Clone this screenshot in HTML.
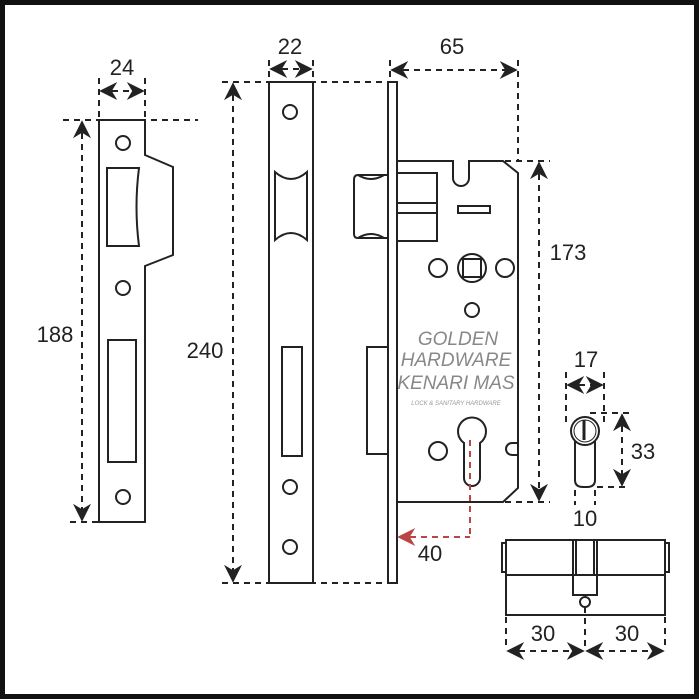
<!DOCTYPE html>
<html><head><style>
html,body{margin:0;padding:0;background:#fff;}
svg{display:block;}
text{font-family:"Liberation Sans",sans-serif;fill:#222;}
</style></head><body>
<svg width="699" height="699" viewBox="0 0 699 699" xmlns="http://www.w3.org/2000/svg">
<defs>
<marker id="a" viewBox="0 0 10 10" refX="9" refY="5" markerWidth="9" markerHeight="9" orient="auto-start-reverse"><path d="M0,0 L10,5 L0,10 L3,5 z" fill="#222"/></marker>
<marker id="r" viewBox="0 0 10 10" refX="9" refY="5" markerWidth="9" markerHeight="9" orient="auto-start-reverse"><path d="M0,0 L10,5 L0,10 L3,5 z" fill="#b44"/></marker>
</defs>
<rect x="0" y="0" width="699" height="699" fill="#fff"/>
<rect x="2.5" y="2.5" width="694" height="694" fill="none" stroke="#111" stroke-width="5"/>
<g fill="none" stroke="#222" stroke-width="2">
<path d="M99,120 H145 V155 L173,167 V255 L145,266 V522 H99 Z"/>
<circle cx="123" cy="143" r="7"/>
<path d="M107,168 H139 Q134,207 139,246 H107 Z"/>
<circle cx="123" cy="288" r="7"/>
<rect x="108" y="340" width="28" height="122"/>
<circle cx="123" cy="497" r="7"/>
<rect x="269" y="82" width="44" height="501"/>
<circle cx="290" cy="112" r="7"/>
<path d="M275,172 Q291,186 307,172 V240 Q291,226 275,240 Z"/>
<rect x="282" y="347" width="20" height="109"/>
<circle cx="290" cy="487" r="7"/>
<circle cx="290" cy="547" r="7"/>
<rect x="388" y="82" width="9" height="501"/>
<path d="M397,161 H453 V178 A8,8 0 0 0 469,178 V161 H503 L518,173 V488 L503,502 H397"/>
<path d="M388,175 H358 Q354,175 354,180 V234 Q354,238 358,238 H388"/>
<path d="M358,175 Q371,183 384,175 M358,238 Q371,230 384,238"/>
<rect x="397" y="173" width="40" height="68"/>
<line x1="397" y1="203" x2="437" y2="203"/><line x1="397" y1="213" x2="437" y2="213"/>
<rect x="458" y="206" width="32" height="7"/>
<circle cx="472" cy="268" r="14"/>
<rect x="463" y="259" width="18" height="18"/>
<circle cx="438" cy="268" r="9"/>
<circle cx="505" cy="268" r="9"/>
<circle cx="472" cy="310" r="7"/>
<rect x="367" y="347" width="21" height="107"/>
<path d="M464,443 A14,14 0 1 1 480,443 V478 A8,8 0 0 1 464,478 Z"/>
<circle cx="438" cy="451" r="9"/>
<path d="M518,443 H512 A6,6 0 0 0 512,455 H518"/>
<circle cx="585" cy="431" r="14"/>
<circle cx="585" cy="431" r="11" stroke-width="1"/>
<path d="M575,441 V480 Q575,487 583,487 H587 Q595,487 595,480 V441"/>
<line x1="584" y1="420" x2="584" y2="440" stroke-width="3"/>
<rect x="506" y="540" width="159" height="75"/>
<line x1="506" y1="575" x2="665" y2="575"/>
<path d="M506,543 H502 V572 H506 M665,543 H669 V572 H665"/>
<path d="M573,540 V595 H597 V540 M576,540 V575 M594,540 V575"/>
<circle cx="585" cy="602" r="5"/>
</g>
<g fill="none" stroke="#222" stroke-width="2" stroke-dasharray="6,5">
<line x1="99" y1="78" x2="99" y2="120"/><line x1="145" y1="78" x2="145" y2="120"/>
<line x1="101" y1="91" x2="143" y2="91" marker-start="url(#a)" marker-end="url(#a)"/>
<line x1="63" y1="120" x2="198" y2="120"/><line x1="70" y1="522" x2="99" y2="522"/>
<line x1="82" y1="122" x2="82" y2="520" marker-start="url(#a)" marker-end="url(#a)"/>
<line x1="269" y1="60" x2="269" y2="82"/><line x1="313" y1="60" x2="313" y2="82"/>
<line x1="271" y1="69" x2="311" y2="69" marker-start="url(#a)" marker-end="url(#a)"/>
<line x1="222" y1="82" x2="388" y2="82"/><line x1="222" y1="583" x2="388" y2="583"/>
<line x1="233" y1="84" x2="233" y2="581" marker-start="url(#a)" marker-end="url(#a)"/>
<line x1="390" y1="60" x2="390" y2="82"/><line x1="518" y1="60" x2="518" y2="161"/>
<line x1="392" y1="70" x2="516" y2="70" marker-start="url(#a)" marker-end="url(#a)"/>
<line x1="505" y1="161" x2="550" y2="161"/><line x1="505" y1="502" x2="550" y2="502"/>
<line x1="539" y1="163" x2="539" y2="500" marker-start="url(#a)" marker-end="url(#a)"/>
<line x1="566" y1="372" x2="566" y2="425"/><line x1="604" y1="372" x2="604" y2="425"/>
<line x1="568" y1="385" x2="602" y2="385" marker-start="url(#a)" marker-end="url(#a)"/>
<line x1="590" y1="413" x2="630" y2="413"/><line x1="597" y1="487" x2="630" y2="487"/>
<line x1="622" y1="415" x2="622" y2="485" marker-start="url(#a)" marker-end="url(#a)"/>
<line x1="575" y1="490" x2="575" y2="505"/><line x1="595" y1="490" x2="595" y2="505"/>
<line x1="506" y1="617" x2="506" y2="650"/><line x1="585" y1="607" x2="585" y2="650"/><line x1="665" y1="617" x2="665" y2="650"/>
<line x1="508" y1="651" x2="583" y2="651" marker-start="url(#a)" marker-end="url(#a)"/>
<line x1="587" y1="651" x2="663" y2="651" marker-start="url(#a)" marker-end="url(#a)"/>
</g>
<g fill="none" stroke="#b44" stroke-width="2" stroke-dasharray="6,5">
<line x1="470" y1="440" x2="470" y2="537"/>
<line x1="399" y1="537" x2="470" y2="537" marker-start="url(#r)"/>
</g>
<g font-size="22" text-anchor="middle">
<text x="122" y="75">24</text>
<text x="55" y="342">188</text>
<text x="290" y="54">22</text>
<text x="205" y="358">240</text>
<text x="452" y="54">65</text>
<text x="568" y="260">173</text>
<text x="430" y="561">40</text>
<text x="586" y="367">17</text>
<text x="643" y="459">33</text>
<text x="585" y="526">10</text>
<text x="543" y="641">30</text>
<text x="627" y="641">30</text>
</g>
<g text-anchor="middle" font-style="italic">
<text x="458" y="345" font-size="19" style="fill:#888">GOLDEN</text>
<text x="456" y="366" font-size="19" style="fill:#888">HARDWARE</text>
<text x="456" y="389" font-size="19" style="fill:#888">KENARI MAS</text>
<text x="456" y="405" font-size="6" style="fill:#999">LOCK &amp; SANITARY HARDWARE</text>
</g>
</svg>
</body></html>
